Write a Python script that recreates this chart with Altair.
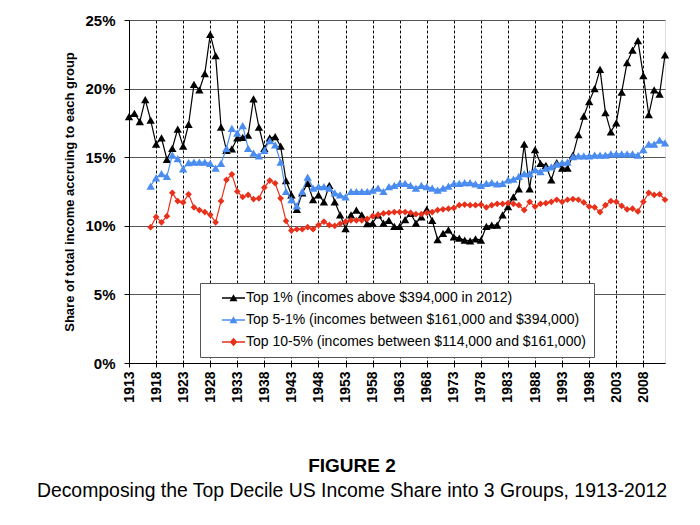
import altair as alt
import pandas as pd

# ---------------- data ----------------
years_top1 = list(range(1913, 2013))
years_other = list(range(1917, 2013))

top1 = [17.95, 18.2, 17.6, 19.2, 17.7, 15.96, 16.4, 14.85, 15.65, 17.05,
        15.8, 17.4, 20.3, 19.9, 21.1, 23.95, 22.4, 17.2, 15.5, 15.6,
        16.4, 16.45, 16.6, 19.25, 17.2, 15.65, 16.4, 16.5, 15.8, 13.3,
        12.25, 11.2, 12.4, 13.1, 11.9, 12.25, 11.75, 12.95, 11.75, 10.8,
        9.8, 10.8, 11.15, 10.8, 10.15, 10.2, 10.8, 10.2, 10.4, 9.95,
        9.95, 10.45, 10.9, 10.2, 10.65, 11.2, 10.4, 9.0, 9.45, 9.7,
        9.2, 9.1, 8.95, 8.9, 9.05, 8.95, 9.95, 10.05, 10.05, 10.8,
        11.4, 12.1, 12.7, 15.95, 12.7, 15.55, 14.55, 14.4, 13.35, 14.6,
        14.2, 14.2, 15.15, 16.65, 18.0, 19.05, 20.0, 21.4, 18.25, 16.85,
        17.5, 19.75, 21.9, 22.8, 23.5, 20.95, 18.1, 19.9, 19.6, 22.45]

top5_1 = [12.9, 13.5, 13.8, 13.6, 15.15, 14.9, 14.15, 14.6, 14.65, 14.65,
          14.65, 14.55, 14.2, 14.55, 15.65, 17.1, 16.75, 17.3, 15.65, 15.3,
          15.1, 15.5, 16.2, 15.9, 14.65, 12.5, 11.9, 11.45, 12.5, 13.55,
          12.75, 12.85, 12.85, 12.75, 12.4, 12.25, 12.1, 12.5, 12.5, 12.5,
          12.5, 12.6, 12.75, 12.5, 12.85, 12.95, 13.1, 13.1, 12.95, 12.75,
          12.95, 12.85, 12.75, 12.6, 12.75, 12.9, 13.1, 13.1, 13.15, 13.15,
          13.05, 12.95, 13.1, 13.15, 13.05, 13.1, 13.35, 13.4, 13.6, 13.8,
          13.8, 14.1, 13.95, 14.2, 14.3, 14.5, 14.6, 14.65, 15.05, 15.1,
          15.1, 15.1, 15.15, 15.15, 15.15, 15.25, 15.25, 15.25, 15.25, 15.25,
          15.15, 15.55, 15.95, 15.95, 16.25, 16.05]

top10_5 = [9.9, 10.65, 10.25, 10.7, 12.4, 11.8, 11.7, 12.3, 11.35, 11.15,
           11.0, 10.8, 10.25, 11.8, 13.35, 13.75, 12.5, 12.1, 12.25, 11.95,
           12.0, 12.8, 13.3, 13.1, 12.0, 10.35, 9.65, 9.75, 9.75, 9.9,
           9.75, 10.05, 10.3, 10.05, 10.0, 10.15, 10.3, 10.4, 10.4, 10.4,
           10.5, 10.7, 10.8, 10.9, 10.95, 11.0, 11.0, 11.0, 10.95, 10.85,
           10.85, 10.95, 11.0, 11.15, 11.2, 11.25, 11.3, 11.5, 11.55, 11.5,
           11.5, 11.55, 11.35, 11.5, 11.6, 11.6, 11.65, 11.6, 11.5, 11.15,
           11.75, 11.4, 11.6, 11.65, 11.75, 11.9, 11.75, 11.9, 11.95, 11.9,
           11.7, 11.4, 11.35, 11.0, 11.5, 11.8, 11.75, 11.45, 11.2, 11.25,
           11.05, 11.75, 12.4, 12.25, 12.3, 11.9]

series_names = [
    "Top 1% (incomes above $394,000 in 2012)",
    "Top 5-1% (incomes between $161,000 and $394,000)",
    "Top 10-5% (incomes between $114,000 and $161,000)",
]
x_ticks = list(range(1913, 2009, 5))
y_ticks = [0, 5, 10, 15, 20, 25]

title_text = "FIGURE 2"
subtitle_text = "Decomposing the Top Decile US Income Share into 3 Groups, 1913-2012"
y_title = "Share of total income accruing to each group"

# ---------------- styles ----------------
colors = ["#000000", "#4A8CF0", "#E8301A"]
marker_shapes = ["triangle-up", "triangle-up", "diamond"]
marker_sizes = [70, 70, 45]
legend_paths = [
    "M-1,-1M1.4,-0.14H6V0.14H1.4Z M2.9,0.65L3.7,-0.75L4.5,0.65Z",
    "M-1,-1M1.4,-0.14H6V0.14H1.4Z M2.9,0.65L3.7,-0.75L4.5,0.65Z",
    "M-1,-1M1.4,-0.14H6V0.14H1.4Z M3.7,-0.85L4.45,0L3.7,0.85L2.95,0Z",
]
FONT = "Liberation Sans"

rows = []
for y, v in zip(years_top1, top1):
    rows.append({"year": y, "value": v, "series": series_names[0]})
for y, v in zip(years_other, top5_1):
    rows.append({"year": y, "value": v, "series": series_names[1]})
for y, v in zip(years_other, top10_5):
    rows.append({"year": y, "value": v, "series": series_names[2]})
df = pd.DataFrame(rows)

base = alt.Chart(df).encode(
    x=alt.X(
        "year:Q",
        scale=alt.Scale(domain=[1913, 2012], nice=False, zero=False),
        axis=alt.Axis(
            values=x_ticks, format="d", labelAngle=-90, title=None,
            labelFontSize=14, labelFontWeight="bold", labelFont=FONT, labelColor="black",
            labelPadding=4, tickSize=4, tickColor="black", domainColor="black",
            grid=True, gridColor="black", gridDash=[3, 2], gridWidth=1,
            labelOverlap=False, labelBaseline="middle", labelAlign="right",
        ),
    ),
    y=alt.Y(
        "value:Q",
        scale=alt.Scale(domain=[0, 25], nice=False),
        axis=alt.Axis(
            values=y_ticks, labelExpr="datum.value + '%'", title=y_title,
            labelFontSize=15, labelFontWeight="bold", labelFont=FONT, labelColor="black",
            labelPadding=9, tickSize=5, tickColor="black", domainColor="black",
            grid=True, gridColor="#555555", gridWidth=1,
            titleFont=FONT, titleFontSize=13, titleFontWeight="bold", titleColor="black",
            titlePadding=8,
        ),
    ),
)

layers = []
for name, col, shp, sz in zip(series_names, colors, marker_shapes, marker_sizes):
    sub = base.transform_filter(alt.FieldEqualPredicate(field="series", equal=name))
    layers.append(sub.mark_line(color=col, strokeWidth=1.2))
    layers.append(sub.mark_point(color=col, fill=col, filled=True, shape=shp, size=sz, opacity=1))

legend_def = dict(
    title=None, orient="none", legendX=71, legendY=263, direction="vertical",
    fillColor="white", strokeColor="#555555", padding=8,
    labelFontSize=14, labelFont=FONT, labelColor="black", labelLimit=600,
    labelExpr="datum.label + '\u00a0\u00a0\u00a0'",
    symbolSize=100, symbolStrokeWidth=0, symbolOpacity=1, labelOffset=24, rowPadding=8,
)

legend_layer = base.mark_point(filled=True, opacity=0, size=100).encode(
    color=alt.Color("series:N", scale=alt.Scale(domain=series_names, range=colors),
                    legend=alt.Legend(**legend_def)),
    shape=alt.Shape("series:N", scale=alt.Scale(domain=series_names, range=legend_paths),
                    legend=alt.Legend(**legend_def)),
)

chart = alt.layer(*layers, legend_layer).properties(
    width=536,
    height=343,
    autosize=alt.AutoSizeParams(type="none"),
    padding={"left": 129, "top": 20, "right": 35, "bottom": 162},
    title=alt.Title(
        title_text, subtitle=subtitle_text, orient="bottom", anchor="middle",
        font=FONT, fontSize=19, fontWeight="bold", color="black",
        subtitleFont=FONT, subtitleFontSize=19.4, subtitleColor="black",
        subtitlePadding=6, offset=55, dx=-45,
    ),
).configure_view(stroke="#777777", strokeWidth=1).configure(background="white")

chart.save("out.html", embed_options={"renderer": "svg", "actions": False})
